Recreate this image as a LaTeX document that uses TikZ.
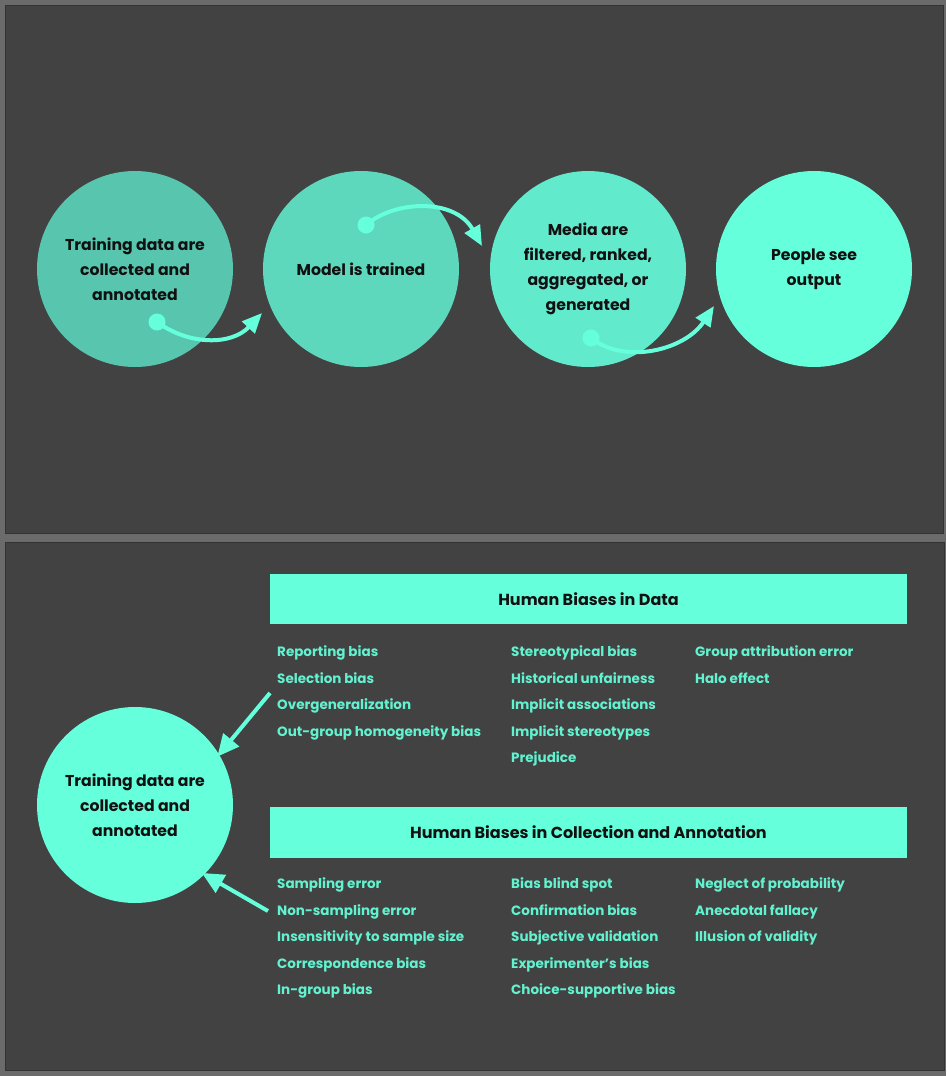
\documentclass[tikz,border=0pt]{standalone}
\usepackage{fontspec}
\setmainfont{Poppins}
\usetikzlibrary{arrows.meta}
\definecolor{outerbg}{HTML}{6B6B6B}
\definecolor{panel}{HTML}{424242}
\definecolor{panelline}{HTML}{333333}
\definecolor{tealA}{HTML}{58C6AF}
\definecolor{tealB}{HTML}{5DD8BD}
\definecolor{tealC}{HTML}{62EACD}
\definecolor{tealD}{HTML}{66FFDB}
\definecolor{listtxt}{HTML}{62F2D0}
\definecolor{ink}{HTML}{111111}
\tikzset{
  panelbox/.style={fill=panel, draw=panelline, line width=1pt},
  stage/.style={circle, minimum size=196pt, inner sep=0pt, align=center,
    text=ink, font=\fontsize{15.7}{25}\selectfont\bfseries},
  header/.style={fill=tealD, inner sep=0pt, text=ink,
    font=\fontsize{16}{19}\selectfont\bfseries},
  item/.style={anchor=base west, inner sep=0pt, text=listtxt,
    font=\fontsize{13.5}{17}\selectfont\bfseries},
  flow/.style={draw=tealD, line width=4pt,
    -{Triangle[length=20pt,width=17pt]}},
  dot/.style={circle, fill=tealD, minimum size=17pt, inner sep=0pt},
}
\begin{document}
\begin{tikzpicture}[x=1pt,y=-1pt]
\useasboundingbox (0,0) rectangle (946,1076);
\fill[outerbg] (0,0) rectangle (946,1076);
\draw[panelbox] (5,5) rectangle (943,533);
\draw[panelbox] (5,542) rectangle (944,1070);

% top row
\node[stage, fill=tealA] (s1) at (135,269) {Training data are\\collected and\\annotated};
\node[stage, fill=tealB] (s2) at (361,269) {Model is trained};
\node[stage, fill=tealC] (s3) at (588,269) {Media are\\filtered, ranked,\\aggregated, or\\generated};
\node[stage, fill=tealD] (s4) at (814,269) {People see\\output};

\node[dot] (d1) at (157,322) {};
\node[dot] (d2) at (366,225) {};
\node[dot] (d3) at (591,338) {};
\coordinate (t1) at (262,313);
\coordinate (t2) at (482,246);
\coordinate (t3) at (714,306);
\draw[flow] (d1.center) .. controls (190,346) and (232,345) .. (t1);
\draw[flow] (d2.center) .. controls (395,200) and (455,198) .. (t2);
\draw[flow] (d3.center) .. controls (625,365) and (685,350) .. (t3);

% bottom panel
\node[stage, fill=tealD] (b1) at (135,805) {Training data are\\collected and\\annotated};

\node[header, minimum width=637pt, minimum height=50pt] (h1) at (588.5,599) {Human Biases in Data};
\node[header, minimum width=637pt, minimum height=51pt] (h2) at (588.5,832.5) {Human Biases in Collection and Annotation};

\coordinate (a1) at (270,693);
\coordinate (a2) at (268,911);
\draw[flow, -{Triangle[length=22pt,width=20pt]}, shorten >=-3pt] (a1) -- (b1.31);
\draw[flow, -{Triangle[length=22pt,width=20pt]}, shorten >=-3pt] (a2) -- (b1.-45);

% lists: data
\node[item] (r1) at (277,656) {Reporting bias};
\node[item] (r2) at (277,683) {Selection bias};
\node[item] (r3) at (277,709) {Overgeneralization};
\node[item] (r4) at (277,736) {Out-group homogeneity bias};
\node[item] (r5) at (511,656) {Stereotypical bias};
\node[item] (r6) at (511,683) {Historical unfairness};
\node[item] (r7) at (511,709) {Implicit associations};
\node[item] (r8) at (511,736) {Implicit stereotypes};
\node[item] (r9) at (511,762) {Prejudice};
\node[item] (r10) at (695,656) {Group attribution error};
\node[item] (r11) at (695,683) {Halo effect};

% lists: collection
\node[item] (c1) at (277,888) {Sampling error};
\node[item] (c2) at (277,915) {Non-sampling error};
\node[item] (c3) at (277,941) {Insensitivity to sample size};
\node[item] (c4) at (277,968) {Correspondence bias};
\node[item] (c5) at (277,994) {In-group bias};
\node[item] (c6) at (511,888) {Bias blind spot};
\node[item] (c7) at (511,915) {Confirmation bias};
\node[item] (c8) at (511,941) {Subjective validation};
\node[item] (c9) at (511,968) {Experimenter’s bias};
\node[item] (c10) at (511,994) {Choice-supportive bias};
\node[item] (c11) at (695,888) {Neglect of probability};
\node[item] (c12) at (695,915) {Anecdotal fallacy};
\node[item] (c13) at (695,941) {Illusion of validity};
\end{tikzpicture}
\end{document}
